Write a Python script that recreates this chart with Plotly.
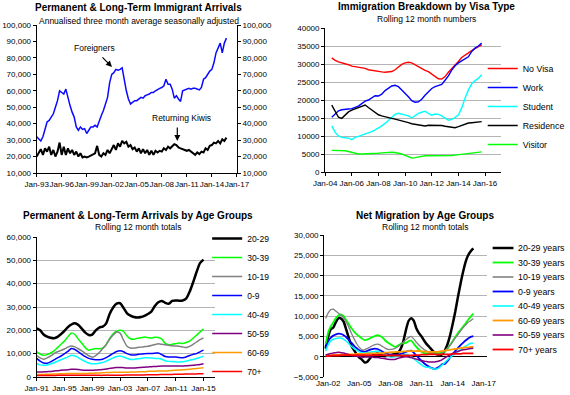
import numpy as np
import pandas as pd
import plotly.graph_objects as go

FONT = "Liberation Sans, Arial, sans-serif"
W, H = 570, 395

# ---------------- Panel 1: PLT immigrant arrivals (thousands, quarterly) ----------------
p1_start = "1993-01-01"
foreigners = [
    32, 31, 29.5, 32,      # 1993
    36, 41, 42, 44,        # 1994
    46, 50, 54, 60,        # 1995
    59, 58, 61, 55,        # 1996
    51, 47, 44, 38,        # 1997
    36, 38, 36.5, 37,      # 1998
    34, 36, 38, 38,        # 1999
    39, 38, 42, 45,        # 2000
    48, 52, 56, 65,        # 2001
    70, 71, 73, 72.5,      # 2002
    73, 74, 66, 60,        # 2003
    55, 52, 53, 54,        # 2004
    54, 55, 56, 55.5,      # 2005
    57, 57.5, 58, 59,      # 2006
    59, 60, 61, 61.5,      # 2007
    62, 63, 67, 64,        # 2008
    64, 61, 55.5, 57,      # 2009
    55, 53.5, 60, 60.5,    # 2010
    61, 61.5, 61, 61.5,    # 2011
    61.5, 61, 60.5, 62,    # 2012
    67, 68, 70, 72,        # 2013
    73, 77, 83, 86,        # 2014
    89, 83, 89, 92,        # 2015
]
returning_kiwis = [
    20, 22, 24.5, 21,
    25, 23, 26, 21,
    24, 20, 23, 28.5,
    21, 26, 21, 25,
    22, 24, 21, 23,
    20, 22, 19.5, 20,
    19.5, 20, 20.5, 21,
    22, 26.5, 21, 20,
    22, 21, 24, 22,
    25, 27, 24, 28,
    26, 29.5, 28, 29,
    26, 27, 24.5, 25.5,
    23, 25, 22, 24.5,
    22, 24, 21, 23.5,
    21, 23.5, 22.5, 23.5,
    23, 25, 24, 26,
    25, 26.5, 27.5, 27,
    25.5, 25, 24.5, 24,
    23.5, 24, 23, 22,
    21, 22.5, 21.5, 23,
    22.5, 25, 24, 26.5,
    27, 28.5, 28, 29.5,
    28, 30.5, 29.5, 31.5,
]

# ---------------- Panel 2: visa type (thousands, quarterly from 2004 Q3) ----------------
p2_start = "2004-07-01"
visa_names = ["No Visa", "Work", "Student", "Residence", "Visitor"]
visa_colors = ["#ff0000", "#0000ff", "#00ffff", "#000000", "#00ff00"]
no_visa = [31.7, 31.0,
           30.6, 30.4, 30.2, 29.8, 29.4, 29.3, 29.2, 29.0, 28.8, 28.4, 28.2, 28.0,
           27.9, 27.8, 27.7, 27.7, 27.9, 28.4, 29.2, 29.9, 30.3, 30.5, 30.3, 29.8,
           29.2, 28.6, 28.2, 27.9, 27.2, 26.4, 25.9, 25.8, 26.5, 27.7, 28.6, 29.5,
           30.7, 31.8, 32.5, 33.1, 33.7, 34.3, 34.8, 35.3]
work = [15.2, 16.2,
        17.0, 17.3, 17.5, 17.5, 17.6, 17.9, 18.3, 19.0, 19.7, 20.0, 20.6, 21.2,
        21.1, 21.6, 22.6, 23.3, 23.9, 24.1, 23.7, 22.8, 21.9, 20.9, 19.8, 19.4,
        19.5, 20.2, 21.3, 22.4, 23.2, 23.7, 24.0, 24.3, 25.5, 26.7, 28.3, 29.5,
        30.3, 30.9, 31.3, 32.0, 33.5, 34.4, 35.0, 35.8]
student = [12.8, 11.0,
           10.0, 9.6, 9.5, 9.4, 9.0, 9.6, 9.9, 10.2, 10.5, 10.8, 11.2, 11.7,
           12.2, 12.8, 13.5, 14.4, 15.3, 16.0, 16.3, 16.1, 15.9, 15.6, 15.0, 15.6,
           16.3, 16.6, 16.9, 16.3, 15.8, 16.1, 16.0, 15.6, 15.0, 14.4, 14.6, 15.1,
           15.9, 17.8, 20.5, 22.8, 24.5, 25.4, 26.0, 27.0]
residence = [18.6, 16.8,
             15.2, 14.9, 15.8, 16.7, 17.2, 17.6, 18.0, 18.4, 18.6, 17.9, 17.2, 16.6,
             15.9, 15.6, 15.3, 15.0, 14.9, 14.7, 14.5, 14.3, 14.0, 13.7, 13.4, 13.2,
             13.1, 12.9, 12.8, 13.0, 13.0, 12.9, 13.0, 12.9, 12.7, 12.5, 12.3, 12.3,
             12.6, 13.0, 13.3, 13.6, 13.7, 13.8, 13.9, 14.0]
visitor = [6.0, 6.0,
           6.0, 6.0, 5.9, 5.7, 5.4, 5.2, 5.0, 5.0, 5.0, 5.1, 5.1, 5.2,
           5.2, 5.3, 5.4, 5.5, 5.5, 5.4, 5.3, 5.0, 4.6, 4.2, 3.9, 4.0,
           4.2, 4.4, 4.5, 4.5, 4.5, 4.5, 4.5, 4.4, 4.5, 4.5, 4.6, 4.7,
           4.8, 4.9, 5.0, 5.0, 5.1, 5.2, 5.4, 5.6]
visa_series = [no_visa, work, student, residence, visitor]

# ---------------- Panel 3: arrivals by age (thousands, half-yearly from 1991) ----------------
p3_start = "1991-01-01"
arr_names = ["20-29", "30-39", "10-19", "0-9", "40-49", "50-59", "60-69", "70+"]
arr_colors = ["#000000", "#00ff00", "#808080", "#0000ff", "#00ffff", "#800080", "#ff9900", "#ff0000"]
arr_widths = [2.5, 1.5, 1.5, 1.5, 1.5, 1.5, 1.5, 1.5]
arr_20_29 = [20.8, 20.0, 18.2, 17.3, 16.8, 16.6, 17.2, 18.4, 19.8, 21.4, 22.5, 23.0,
             22.3, 20.7, 19.0, 18.0, 18.2, 20.0, 21.2, 21.6, 23.0, 27.0, 29.8, 31.4,
             31.6, 29.6, 27.3, 26.3, 25.7, 25.5, 25.7, 26.2, 27.0, 28.0, 30.4, 32.0,
             32.6, 31.8, 31.4, 32.6, 32.8, 32.7, 32.8, 33.6, 36.5, 40.5, 45.0, 48.8, 50.3]
arr_30_39 = [10.9, 9.8, 9.3, 9.6, 10.3, 11.2, 12.6, 14.0, 15.4, 17.3, 18.9, 18.2,
             16.2, 14.5, 12.6, 11.5, 11.9, 12.2, 12.1, 12.4, 14.0, 16.5, 18.5, 19.6,
             20.0, 19.5, 17.6, 16.4, 16.2, 16.6, 16.8, 17.1, 16.9, 16.7, 17.0, 16.9,
             16.2, 14.4, 13.8, 14.0, 14.3, 14.6, 14.4, 14.8, 15.4, 16.6, 17.9, 19.3, 20.6]
arr_10_19 = [9.2, 8.2, 7.6, 8.2, 9.0, 10.0, 10.8, 11.4, 12.0, 12.8, 13.3, 12.9,
             12.1, 11.2, 10.1, 9.1, 8.5, 9.2, 10.5, 12.2, 13.8, 16.2, 18.0, 19.3,
             18.8, 15.8, 13.2, 12.4, 12.4, 12.6, 12.8, 13.0, 13.2, 13.5, 13.9, 14.2,
             14.0, 13.8, 13.6, 13.4, 13.3, 13.2, 12.9, 12.6, 13.1, 14.0, 15.0, 16.0, 16.8]
arr_0_9 = [8.0, 6.8, 6.0, 5.9, 6.5, 7.3, 8.2, 9.0, 10.0, 11.0, 12.2, 11.8,
           10.8, 9.7, 8.7, 8.0, 7.6, 7.4, 7.4, 7.6, 8.3, 9.2, 10.1, 10.9,
           11.2, 10.8, 10.0, 9.5, 9.4, 9.6, 9.8, 10.0, 10.1, 10.1, 10.2, 10.3,
           9.6, 8.8, 8.6, 8.6, 8.6, 8.4, 8.3, 8.6, 9.2, 9.7, 10.0, 10.8, 11.5]
arr_40_49 = [5.7, 5.2, 5.0, 5.1, 5.6, 6.1, 6.8, 7.4, 8.0, 8.6, 9.3, 9.0,
             8.3, 7.4, 6.6, 6.0, 5.7, 5.7, 5.9, 6.2, 6.8, 7.5, 8.2, 8.8,
             9.0, 8.6, 8.0, 7.5, 7.5, 7.8, 8.0, 8.2, 8.3, 8.1, 8.0, 7.9,
             7.6, 7.0, 6.7, 6.6, 6.5, 6.4, 6.5, 6.8, 7.2, 7.5, 7.9, 8.4, 8.9]
arr_50_59 = [2.1, 2.1, 2.2, 2.3, 2.4, 2.6, 2.7, 2.9, 3.0, 3.1, 3.3, 3.3,
             3.2, 3.0, 2.9, 2.9, 2.9, 3.0, 3.1, 3.2, 3.4, 3.7, 3.9, 4.1,
             4.1, 4.0, 3.9, 3.9, 3.9, 4.0, 4.1, 4.2, 4.3, 4.4, 4.5, 4.6,
             4.7, 4.7, 4.7, 4.7, 4.7, 4.7, 4.7, 4.8, 4.9, 5.0, 5.2, 5.4, 5.7]
arr_60_69 = [1.1, 1.1, 1.1, 1.2, 1.2, 1.3, 1.3, 1.4, 1.4, 1.5, 1.5, 1.5,
             1.5, 1.5, 1.5, 1.6, 1.6, 1.7, 1.7, 1.8, 1.9, 1.9, 2.0, 2.0,
             2.0, 2.0, 2.0, 2.1, 2.1, 2.2, 2.3, 2.3, 2.4, 2.5, 2.5, 2.6,
             2.6, 2.6, 2.7, 2.8, 2.9, 3.0, 3.1, 3.2, 3.3, 3.5, 3.6, 3.8, 4.0]
arr_70_plus = [0.6, 0.6, 0.6, 0.6, 0.6, 0.6, 0.7, 0.7, 0.7, 0.7, 0.7, 0.7,
               0.7, 0.7, 0.7, 0.7, 0.7, 0.7, 0.7, 0.7, 0.8, 0.8, 0.8, 0.8,
               0.8, 0.8, 0.9, 0.9, 0.9, 0.9, 0.9, 0.9, 1.0, 1.0, 1.0, 1.0,
               1.1, 1.1, 1.1, 1.1, 1.2, 1.2, 1.2, 1.3, 1.3, 1.3, 1.3, 1.4, 1.4]
arr_series = [arr_20_29, arr_30_39, arr_10_19, arr_0_9, arr_40_49, arr_50_59, arr_60_69, arr_70_plus]

# ---------------- Panel 4: net migration by age (thousands, quarterly from Aug 2001) ----------------
p4_start = "2001-08-01"
net_names = ["20-29 years", "30-39 years", "10-19 years", "0-9 years",
             "40-49 years", "60-69 years", "50-59 years", "70+ years"]
net_colors = ["#000000", "#00ff00", "#808080", "#0000ff", "#00ffff", "#ff9900", "#800080", "#ff0000"]
net_widths = [2.5, 1.8, 1.3, 1.8, 1.5, 1.8, 1.5, 1.8]
net_20_29 = [2.0, 5.0, 6.8, 7.2, 8.6, 9.5, 9.4, 8.6, 6.6, 4.5, 2.6, 1.6,
             0.6, -0.2, -0.7, -1.4, -1.3, -0.5, 0.2, 0.6, 0.8, 0.5, 0.2, 0.1,
             0.2, 0.4, 0.6, 0.7, 1.0, 2.0, 3.8, 6.6, 8.8, 9.5, 8.9, 7.0,
             5.8, 5.0, 4.0, 3.1, 2.4, 1.7, 1.0, 0.6, 0.4, 0.6, 1.5, 3.0,
             5.2, 8.0, 11.0, 14.5, 17.8, 20.8, 23.3, 25.0, 26.0, 26.7]
net_30_39 = [3.0, 6.0, 7.5, 8.5, 9.5, 10.2, 10.4, 10.0, 9.0, 8.0, 7.0, 6.2,
             5.5, 5.0, 4.5, 4.1, 4.2, 4.5, 4.8, 5.1, 5.3, 5.1, 4.7, 4.0,
             3.5, 3.1, 2.7, 2.4, 2.8, 3.2, 3.3, 3.4, 3.8, 4.0, 3.2, 2.4,
             1.8, 1.2, 0.9, 0.8, 0.8, 0.8, 0.9, 0.9, 0.9, 1.0, 1.2, 2.0,
             2.9, 3.8, 4.8, 5.8, 6.6, 7.4, 8.2, 9.1, 9.9, 10.6]
net_10_19 = [9.4, 10.8, 11.6, 11.7, 11.2, 10.7, 10.2, 9.5, 8.5, 7.2, 5.7, 4.4,
             3.2, 2.3, 1.7, 1.7, 2.0, 2.3, 2.7, 3.0, 3.1, 2.9, 2.5, 2.1,
             1.8, 1.8, 1.9, 2.1, 2.5, 3.0, 3.6, 4.2, 4.7, 5.0, 4.4, 3.6,
             2.9, 2.3, 1.8, 1.4, 1.1, 0.8, 0.6, 0.5, 0.5, 0.9, 1.4, 2.1,
             2.8, 3.7, 4.6, 5.4, 6.3, 7.1, 7.8, 8.5, 8.9, 9.4]
net_0_9 = [2.0, 3.8, 4.7, 5.2, 5.5, 5.7, 5.6, 5.3, 4.8, 4.1, 3.4, 2.7,
           2.1, 1.6, 1.3, 1.2, 1.4, 1.7, 1.9, 2.0, 1.9, 1.6, 1.2, 0.9,
           0.7, 0.5, 0.4, 0.4, 0.5, 0.7, 0.9, 1.2, 1.4, 1.5, 1.0, 0.3,
           -0.4, -1.0, -1.6, -2.1, -2.5, -2.8, -3.0, -2.8, -2.4, -1.8, -1.8, -1.1,
           -0.2, 0.7, 1.4, 2.1, 2.8, 3.4, 4.0, 4.5, 4.9, 5.1]
net_40_49 = [1.4, 3.0, 3.9, 4.3, 4.5, 4.6, 4.6, 4.3, 3.8, 3.2, 2.5, 2.0,
             1.6, 1.2, 1.0, 0.9, 1.0, 1.1, 1.2, 1.3, 1.4, 1.2, 0.8, 0.4,
             0.1, -0.1, -0.1, 0.0, 0.1, 0.3, 0.5, 0.6, 0.4, 0.0, -0.5, -1.0,
             -1.5, -2.0, -2.4, -2.6, -2.6, -2.9, -3.0, -3.0, -2.6, -2.0, -1.4, -0.8,
             -0.2, 0.3, 0.7, 1.2, 1.7, 2.2, 2.6, 3.0, 3.3, 3.4]
net_60_69 = [0.3, 0.3, 0.4, 0.4, 0.4, 0.5, 0.5, 0.5, 0.6, 0.6, 0.6, 0.6,
             0.7, 0.7, 0.7, 0.7, 0.8, 0.8, 0.8, 0.8, 0.8, 0.9, 0.9, 1.0,
             1.0, 1.1, 1.1, 1.2, 1.2, 1.2, 1.3, 1.3, 1.4, 1.4, 1.4, 1.4,
             1.4, 1.3, 1.3, 1.2, 1.2, 1.2, 1.2, 1.2, 1.3, 1.4, 1.5, 1.6,
             1.7, 1.8, 1.9, 2.0, 2.1, 2.2, 2.3, 2.3, 2.4, 2.4]
net_50_59 = [0.4, 0.6, 0.8, 0.9, 1.0, 1.1, 1.0, 0.9, 0.7, 0.5, 0.3, 0.2,
             0.1, 0.0, -0.1, -0.1, -0.1, -0.1, -0.1, -0.2, -0.2, -0.3, -0.4, -0.5,
             -0.6, -0.7, -0.7, -0.6, -0.4, -0.2, -0.1, 0.0, -0.1, -0.2, -0.4, -0.6,
             -0.8, -1.0, -1.1, -1.2, -1.3, -1.3, -1.3, -1.2, -1.0, -0.7, -0.3, 0.1,
             0.5, 0.8, 1.1, 1.3, 1.5, 1.7, 1.8, 1.9, 2.0, 2.1]
net_70_plus = [0.1, 0.2, 0.2, 0.3, 0.3, 0.3, 0.4, 0.4, 0.4, 0.4, 0.4, 0.4,
               0.4, 0.4, 0.4, 0.4, 0.4, 0.4, 0.4, 0.4, 0.4, 0.4, 0.4, 0.4,
               0.3, 0.3, 0.3, 0.3, 0.3, 0.3, 0.3, 0.3, 0.3, 0.3, 0.4, 0.4,
               0.4, 0.5, 0.5, 0.5, 0.6, 0.6, 0.6, 0.6, 0.6, 0.6, 0.6, 0.6,
               0.6, 0.7, 0.7, 0.7, 0.7, 0.8, 0.8, 0.8, 0.8, 0.8]
net_series = [net_20_29, net_30_39, net_10_19, net_0_9, net_40_49, net_60_69, net_50_59, net_70_plus]


def px_x(px):
    return px / W


def px_y(py):
    return 1 - py / H


fig = go.Figure()

# Panel 1 traces
d1 = pd.date_range(p1_start, periods=len(foreigners), freq="QS")
fig.add_trace(go.Scatter(x=d1, y=np.array(foreigners) * 1000, mode="lines", name="Foreigners",
                         line=dict(color="#0a0aff", width=1.5), xaxis="x", yaxis="y", showlegend=False))
d1k = pd.date_range(p1_start, periods=len(returning_kiwis), freq="QS")
fig.add_trace(go.Scatter(x=d1k, y=np.array(returning_kiwis) * 1000, mode="lines", name="Returning Kiwis",
                         line=dict(color="#000000", width=2), xaxis="x", yaxis="y2", showlegend=False))

# Panel 2 traces
for name, col, vals in zip(visa_names, visa_colors, visa_series):
    d = pd.date_range(p2_start, periods=len(vals), freq="QS")
    fig.add_trace(go.Scatter(x=d, y=np.array(vals) * 1000, mode="lines", name=name,
                             line=dict(color=col, width=1.4), xaxis="x2", yaxis="y3", legend="legend"))

# Panel 3 traces
for name, col, wd, vals in zip(arr_names, arr_colors, arr_widths, arr_series):
    d = pd.date_range(p3_start, periods=len(vals), freq="6MS")
    fig.add_trace(go.Scatter(x=d, y=np.array(vals) * 1000, mode="lines", name=name,
                             line=dict(color=col, width=wd, shape="spline", smoothing=0.6),
                             xaxis="x3", yaxis="y4", legend="legend2"))

# Panel 4 traces (legend drawn compactly below)
for name, col, wd, vals in zip(net_names, net_colors, net_widths, net_series):
    d = pd.date_range(p4_start, periods=len(vals), freq="QS")
    fig.add_trace(go.Scatter(x=d, y=np.array(vals) * 1000, mode="lines", name=name,
                             line=dict(color=col, width=wd, shape="spline", smoothing=0.6),
                             xaxis="x4", yaxis="y5", showlegend=False))

tickfont = dict(family=FONT, size=8, color="#000000")
base_x = dict(showline=True, linecolor="#000000", linewidth=1, ticks="outside", ticklen=3,
              tickcolor="#000000", tickfont=tickfont, showgrid=False, zeroline=False,
              automargin=False, type="date", tickformat="%b-%y", tickangle=0, fixedrange=True)
base_y = dict(showline=True, linecolor="#000000", linewidth=1, ticks="outside", ticklen=3,
              tickcolor="#000000", tickfont=tickfont, zeroline=False, automargin=False,
              fixedrange=True)
grid = dict(showgrid=True, gridcolor="#b4b4b4", gridwidth=1)

fig.update_layout(
    width=W, height=H, margin=dict(l=0, r=0, t=0, b=0),
    paper_bgcolor="white", plot_bgcolor="white",
    font=dict(family=FONT, size=8, color="#000000"),
    # panel 1
    xaxis=dict(base_x, domain=[px_x(37), px_x(239)], anchor="y",
               range=["1993-01-01", "2017-01-01"], tick0="1993-01-01", dtick="M36"),
    yaxis=dict(base_y, domain=[px_y(173), px_y(25)], anchor="x", range=[10000, 100000],
               dtick=10000, tickformat=",", showgrid=False),
    yaxis2=dict(base_y, overlaying="y", side="right", anchor="x", range=[10000, 100000],
                dtick=10000, tickformat=",", showgrid=False),
    # panel 2
    xaxis2=dict(base_x, domain=[px_x(328), px_x(505)], anchor="y3",
                range=["2004-01-01", "2017-03-01"], tick0="2004-01-01", dtick="M24"),
    yaxis3=dict(base_y, **grid, domain=[px_y(172), px_y(28)], anchor="x2", range=[0, 40000],
                dtick=5000, tickformat="d"),
    # panel 3
    xaxis3=dict(base_x, domain=[px_x(37), px_x(217)], anchor="y4",
                range=["1991-01-01", "2016-09-01"], tick0="1991-01-01", dtick="M48"),
    yaxis4=dict(base_y, **grid, domain=[px_y(377), px_y(237)], anchor="x3", range=[0, 60000],
                dtick=10000, tickformat=","),
    # panel 4
    xaxis4=dict(base_x, domain=[px_x(327), px_x(491)], anchor="y5",
                range=["2001-08-10", "2017-04-15"], tick0="2002-01-01", dtick="M36"),
    yaxis5=dict(base_y, **grid, domain=[px_y(377), px_y(235)], anchor="x4", range=[-5000, 30000],
                dtick=5000, tickformat=","),
    legend=dict(x=px_x(487), y=px_y(54), xanchor="left", yanchor="top",
                font=dict(family=FONT, size=8.8), bgcolor="rgba(0,0,0,0)"),
    legend2=dict(x=px_x(209), y=px_y(224), xanchor="left", yanchor="top",
                 font=dict(family=FONT, size=8.5), bgcolor="rgba(0,0,0,0)"),
)
fig.update_layout(xaxis4=dict(showline=False, ticks=""),
                  yaxis5=dict(zeroline=True, zerolinecolor="#000000", zerolinewidth=1))

# compact legend for the net-migration panel
for i, (name, col, wd) in enumerate(zip(net_names, net_colors, net_widths)):
    ly = 248 + 14.5 * i
    fig.add_shape(type="line", xref="paper", yref="paper", x0=px_x(497), x1=px_x(518),
                  y0=px_y(ly), y1=px_y(ly), line=dict(color=col, width=max(wd, 1.6)))
    fig.add_annotation(text=name, x=px_x(521), y=px_y(ly), xref="paper", yref="paper",
                       showarrow=False, xanchor="left", yanchor="middle",
                       font=dict(family=FONT, size=8.8, color="#000000"))

titles = [
    ("Permanent & Long-Term Immigrant Arrivals", "Annualised three month average seasonally adjusted", 140, 8, 21),
    ("Immigration Breakdown by Visa Type", "Rolling 12 month numbers", 430, 7, 19),
    ("Permanent & Long-Term Arrivals by Age Groups", "Rolling 12 month totals", 139, 215, 227),
    ("Net Migration by Age Groups", "Rolling 12 month totals", 429, 215, 227),
]
for t, s, cx, ty, sy in titles:
    fig.add_annotation(text="<b>%s</b>" % t, x=px_x(cx), y=px_y(ty), xref="paper", yref="paper",
                       showarrow=False, font=dict(family=FONT, size=10, color="#000000"),
                       xanchor="center", yanchor="middle")
    fig.add_annotation(text=s, x=px_x(cx), y=px_y(sy), xref="paper", yref="paper",
                       showarrow=False, font=dict(family=FONT, size=8.5, color="#000000"),
                       xanchor="center", yanchor="middle")

# Panel 1 callouts
fig.add_annotation(text="Foreigners", x=px_x(95), y=px_y(48), xref="paper", yref="paper",
                   xanchor="center", yanchor="middle",
                   showarrow=False, font=dict(family=FONT, size=8.5, color="#000000"))
fig.add_annotation(text="", x="2002-01-10", y=74500, xref="x", yref="y", showarrow=True,
                   ax=-11, ay=-11, arrowhead=2, arrowsize=1, arrowwidth=1.2, arrowcolor="#000000")
fig.add_annotation(text="Returning Kiwis", x=px_x(183), y=px_y(118), xref="paper", yref="paper",
                   xanchor="center", yanchor="middle",
                   showarrow=False, font=dict(family=FONT, size=8.5, color="#000000"))
fig.add_annotation(text="", x="2009-11-10", y=29500, xref="x", yref="y", showarrow=True,
                   ax=0, ay=-15, arrowhead=2, arrowsize=1, arrowwidth=1.2, arrowcolor="#000000")

fig.write_html("out.html", config={"displayModeBar": False},
               post_script="document.body.style.margin='0';document.body.style.overflow='hidden';")
